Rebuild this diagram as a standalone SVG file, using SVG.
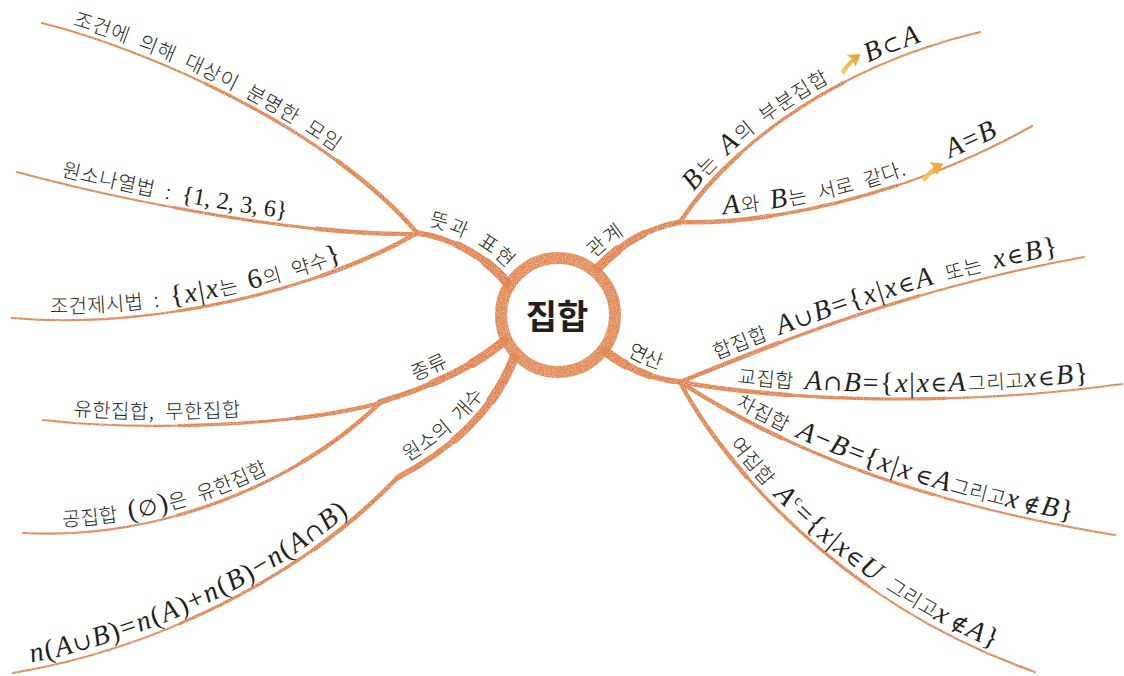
<svg xmlns="http://www.w3.org/2000/svg" width="1124" height="676" viewBox="0 0 1124 676">
<style>
.k{font-family:"Noto Sans CJK KR","Noto Sans",sans-serif;font-size:20px;font-weight:300;fill:#231f20;word-spacing:6px;letter-spacing:0.6px}
.i{font-family:'Liberation Serif','Times New Roman',serif;font-style:italic;font-weight:400;font-size:28px;fill:#231f20;word-spacing:0;letter-spacing:1.8px}
.r{font-family:'Liberation Serif','Times New Roman',serif;font-style:normal;font-weight:400;font-size:28px;fill:#231f20;word-spacing:0;letter-spacing:1.8px}
.y{font-family:'DejaVu Serif','DejaVu Sans',serif;font-style:normal;font-weight:400;font-size:22px;fill:#231f20;word-spacing:0;letter-spacing:2px}
.ln{fill:none;stroke:#de7d47;stroke-linecap:round;stroke-linejoin:round}
.s1{stroke-width:2.2}
.s2{stroke-width:3.2;stroke-dasharray:60 300}
.s3{stroke-width:4.4;stroke-dasharray:25 300}
.m1{stroke-width:5.5}
.m2{stroke-width:7.5;stroke-dasharray:60 300}
.m3{stroke-width:9.5;stroke-dasharray:28 300}
.arr{fill:url(#ag)}
</style>
<defs>
<linearGradient id="ag" x1="0" y1="0" x2="1" y2="0">
<stop offset="0" stop-color="#f9cd6a"/>
<stop offset="1" stop-color="#eb9c30"/>
</linearGradient>
<filter id="crayon" filterUnits="userSpaceOnUse" x="0" y="0" width="1124" height="676">
<feTurbulence type="fractalNoise" baseFrequency="0.9" numOctaves="2" seed="4" result="n"/>
<feColorMatrix in="n" type="matrix" values="0 0 0 0 0  0 0 0 0 0  0 0 0 0 0  0 0 0 -1.1 1.4" result="a"/>
<feComposite in="SourceGraphic" in2="a" operator="in"/>
</filter>
<path id="arrow" class="arr" d="M-13,3 C-6,0 -1,-1 3,-2 L1,-8 L13,-1 L2,7 L3,2 C-2,3 -7,5 -12,8 Z"/>
<path id="tA" d="M42,23 C150,50 330,130 418,234"/>
<path id="tB" d="M17,172 C120,200 300,236 417,234"/>
<path id="tC" d="M12,318 C150,330 320,290 417,233"/>
<path id="tD" d="M418,233 C450,238 485,255 505,280"/>
<path id="tE" d="M598,268 C625,240 650,228 680,222"/>
<path id="tF" d="M680,222 C720,160 820,70 980,32"/>
<path id="tG" d="M680,222 C760,225 900,200 1032,126"/>
<path id="tH" d="M606,352 C630,370 655,380 682,382"/>
<path id="tI" d="M680,382 C760,350 900,290 1084,257"/>
<path id="tJ" d="M680,382 C780,400 950,408 1122,384"/>
<path id="tK" d="M680,382 C770,440 900,500 1115,535"/>
<path id="tL" d="M680,382 C715,450 830,600 1035,672"/>
<path id="tM" d="M380,402 C420,390 470,370 502,343"/>
<path id="tN" d="M43,420 C150,432 300,425 380,403"/>
<path id="tO" d="M23,533 C150,540 290,490 380,403"/>
<path id="tP" d="M397,478 C440,455 490,420 512,362"/>
<path id="tQ" d="M13,673 C150,650 300,580 397,478"/>
</defs>
<g id="connectors" filter="url(#crayon)">
<g class="ln">
<path class="m1" pathLength="100" d="M507,283 C485,255 450,238 418,233"/>
<path class="m2" pathLength="100" d="M507,283 C485,255 450,238 418,233"/>
<path class="m3" pathLength="100" d="M507,283 C485,255 450,238 418,233"/>
<path class="m1" pathLength="100" d="M598,268 C625,240 650,228 680,222"/>
<path class="m2" pathLength="100" d="M598,268 C625,240 650,228 680,222"/>
<path class="m3" pathLength="100" d="M598,268 C625,240 650,228 680,222"/>
<path class="m1" pathLength="100" d="M606,352 C630,370 655,380 682,382"/>
<path class="m2" pathLength="100" d="M606,352 C630,370 655,380 682,382"/>
<path class="m3" pathLength="100" d="M606,352 C630,370 655,380 682,382"/>
<path class="m1" pathLength="100" d="M504,341 C470,370 420,390 380,402"/>
<path class="m2" pathLength="100" d="M504,341 C470,370 420,390 380,402"/>
<path class="m3" pathLength="100" d="M504,341 C470,370 420,390 380,402"/>
<path class="m1" pathLength="100" d="M514,358 C490,420 440,455 397,478"/>
<path class="m2" pathLength="100" d="M514,358 C490,420 440,455 397,478"/>
<path class="m3" pathLength="100" d="M514,358 C490,420 440,455 397,478"/>
<path class="s1" pathLength="100" d="M418,234 C330,130 150,50 42,23"/>
<path class="s2" pathLength="100" d="M418,234 C330,130 150,50 42,23"/>
<path class="s3" pathLength="100" d="M418,234 C330,130 150,50 42,23"/>
<path class="s1" pathLength="100" d="M417,234 C300,236 120,200 17,172"/>
<path class="s2" pathLength="100" d="M417,234 C300,236 120,200 17,172"/>
<path class="s3" pathLength="100" d="M417,234 C300,236 120,200 17,172"/>
<path class="s1" pathLength="100" d="M417,233 C320,290 150,330 12,318"/>
<path class="s2" pathLength="100" d="M417,233 C320,290 150,330 12,318"/>
<path class="s3" pathLength="100" d="M417,233 C320,290 150,330 12,318"/>
<path class="s1" pathLength="100" d="M680,222 C720,160 820,70 980,32"/>
<path class="s2" pathLength="100" d="M680,222 C720,160 820,70 980,32"/>
<path class="s3" pathLength="100" d="M680,222 C720,160 820,70 980,32"/>
<path class="s1" pathLength="100" d="M680,222 C760,225 900,200 1032,126"/>
<path class="s2" pathLength="100" d="M680,222 C760,225 900,200 1032,126"/>
<path class="s3" pathLength="100" d="M680,222 C760,225 900,200 1032,126"/>
<path class="s1" pathLength="100" d="M680,382 C760,350 900,290 1084,257"/>
<path class="s2" pathLength="100" d="M680,382 C760,350 900,290 1084,257"/>
<path class="s3" pathLength="100" d="M680,382 C760,350 900,290 1084,257"/>
<path class="s1" pathLength="100" d="M680,382 C780,400 950,408 1122,384"/>
<path class="s2" pathLength="100" d="M680,382 C780,400 950,408 1122,384"/>
<path class="s3" pathLength="100" d="M680,382 C780,400 950,408 1122,384"/>
<path class="s1" pathLength="100" d="M680,382 C770,440 900,500 1115,535"/>
<path class="s2" pathLength="100" d="M680,382 C770,440 900,500 1115,535"/>
<path class="s3" pathLength="100" d="M680,382 C770,440 900,500 1115,535"/>
<path class="s1" pathLength="100" d="M680,382 C715,450 830,600 1035,672"/>
<path class="s2" pathLength="100" d="M680,382 C715,450 830,600 1035,672"/>
<path class="s3" pathLength="100" d="M680,382 C715,450 830,600 1035,672"/>
<path class="s1" pathLength="100" d="M380,403 C300,425 150,432 43,420"/>
<path class="s2" pathLength="100" d="M380,403 C300,425 150,432 43,420"/>
<path class="s3" pathLength="100" d="M380,403 C300,425 150,432 43,420"/>
<path class="s1" pathLength="100" d="M380,403 C290,490 150,540 23,533"/>
<path class="s2" pathLength="100" d="M380,403 C290,490 150,540 23,533"/>
<path class="s3" pathLength="100" d="M380,403 C290,490 150,540 23,533"/>
<path class="s1" pathLength="100" d="M397,478 C300,580 150,650 13,673"/>
<path class="s2" pathLength="100" d="M397,478 C300,580 150,650 13,673"/>
<path class="s3" pathLength="100" d="M397,478 C300,580 150,650 13,673"/>
</g>
</g>

<g id="center">
<circle cx="558" cy="315" r="57" fill="#fff" stroke="#e0844f" stroke-width="12" filter="url(#crayon)"/>
<text x="557" y="329" text-anchor="middle" font-family="'Noto Sans CJK KR',sans-serif" font-weight="700" font-size="34" fill="#231f20">집합</text>
</g>

<g id="n-meaning">
<text class="k"><textPath href="#tD" startOffset="8"><tspan dy="-9">뜻과 표현</tspan></textPath></text>
</g>
<g id="n-def">
<text class="k"><textPath href="#tA" startOffset="30"><tspan dy="-6">조건에 의해 대상이 분명한 모임</tspan></textPath></text>
</g>
<g id="n-list">
<text class="k"><textPath href="#tB" startOffset="44"><tspan dy="-7">원소나열법 : </tspan><tspan class="r" style="font-size:24px;letter-spacing:0">{1, 2, 3, 6}</tspan></textPath></text>
</g>
<g id="n-cond">
<text class="k"><textPath href="#tC" startOffset="38"><tspan dy="-7">조건제시법 : </tspan><tspan class="r">{</tspan><tspan class="i">x</tspan><tspan class="r">|</tspan><tspan class="i">x</tspan><tspan>는 </tspan><tspan class="r">6</tspan><tspan>의 약수</tspan><tspan class="r">}</tspan></textPath></text>
</g>

<g id="n-relation">
<text class="k"><textPath href="#tE" startOffset="4"><tspan dy="-9">관계</tspan></textPath></text>
</g>
<g id="n-subset">
<text class="k"><textPath href="#tF" startOffset="32"><tspan class="i" dy="-7">B</tspan><tspan>는 </tspan><tspan class="i">A</tspan><tspan>의 부분집합</tspan><tspan class="i" dx="42">B</tspan><tspan class="y">⊂</tspan><tspan class="i">A</tspan></textPath></text>
<use href="#arrow" transform="translate(850,62) rotate(-32)"/>
</g>
<g id="n-equal">
<text class="k"><textPath href="#tG" startOffset="44"><tspan class="i" dy="-7">A</tspan><tspan>와 </tspan><tspan class="i">B</tspan><tspan>는 서로 같다.</tspan><tspan class="i" dx="46">A</tspan><tspan class="r">=</tspan><tspan class="i">B</tspan></textPath></text>
<use href="#arrow" transform="translate(932,170) rotate(-26)"/>
</g>

<g id="n-operation">
<text class="k"><textPath href="#tH" startOffset="20"><tspan dy="-9">연산</tspan></textPath></text>
</g>
<g id="n-union">
<text class="k"><textPath href="#tI" startOffset="42"><tspan dy="-7">합집합 </tspan><tspan class="i">A</tspan><tspan class="y">∪</tspan><tspan class="i">B</tspan><tspan class="r">={</tspan><tspan class="i">x</tspan><tspan class="r">|</tspan><tspan class="i">x</tspan><tspan class="y">∈</tspan><tspan class="i">A</tspan><tspan> 또는 </tspan><tspan class="i">x</tspan><tspan class="y">∈</tspan><tspan class="i">B</tspan><tspan class="r">}</tspan></textPath></text>
</g>
<g id="n-intersection">
<text class="k"><textPath href="#tJ" startOffset="57"><tspan dy="-7">교집합 </tspan><tspan class="i">A</tspan><tspan class="y">∩</tspan><tspan class="i">B</tspan><tspan class="r">={</tspan><tspan class="i">x</tspan><tspan class="r">|</tspan><tspan class="i">x</tspan><tspan class="y">∈</tspan><tspan class="i">A</tspan><tspan>그리고</tspan><tspan class="i">x</tspan><tspan class="y">∈</tspan><tspan class="i">B</tspan><tspan class="r">}</tspan></textPath></text>
</g>
<g id="n-difference">
<text class="k"><textPath href="#tK" startOffset="60"><tspan dy="-7">차집합 </tspan><tspan class="i">A</tspan><tspan class="r">−</tspan><tspan class="i">B</tspan><tspan class="r">={</tspan><tspan class="i">x</tspan><tspan class="r">|</tspan><tspan class="i">x</tspan><tspan class="y" dx="4">∈</tspan><tspan class="i">A</tspan><tspan>그리고</tspan><tspan class="i">x</tspan><tspan class="y" dx="4">∉</tspan><tspan class="i">B</tspan><tspan class="r">}</tspan></textPath></text>
</g>
<g id="n-complement">
<text class="k"><textPath href="#tL" startOffset="80"><tspan dy="-7">여집합 </tspan><tspan class="i">A</tspan><tspan class="r" style="font-size:15px" dy="-10">c</tspan><tspan class="r" dy="10">={</tspan><tspan class="i">x</tspan><tspan class="r">|</tspan><tspan class="i">x</tspan><tspan class="y">∈</tspan><tspan class="i">U</tspan><tspan> 그리고</tspan><tspan class="i">x</tspan><tspan class="y" dx="4">∉</tspan><tspan class="i">A</tspan><tspan class="r">}</tspan></textPath></text>
</g>

<g id="n-kind">
<text class="k"><textPath href="#tM" startOffset="40"><tspan dy="-9">종류</tspan></textPath></text>
</g>
<g id="n-finite">
<text class="k"><textPath href="#tN" startOffset="30"><tspan dy="-7">유한집합, 무한집합</tspan></textPath></text>
</g>
<g id="n-empty">
<text class="k"><textPath href="#tO" startOffset="40"><tspan dy="-7">공집합 </tspan><tspan class="r">(</tspan><tspan class="y">∅</tspan><tspan class="r">)</tspan><tspan>은 유한집합</tspan></textPath></text>
</g>

<g id="n-count">
<text class="k"><textPath href="#tP" startOffset="18"><tspan dy="-9">원소의 개수</tspan></textPath></text>
</g>
<g id="n-formula">
<text class="k"><textPath href="#tQ" startOffset="20"><tspan class="i" dy="-7">n</tspan><tspan class="r">(</tspan><tspan class="i">A</tspan><tspan class="y">∪</tspan><tspan class="i">B</tspan><tspan class="r">)=</tspan><tspan class="i">n</tspan><tspan class="r">(</tspan><tspan class="i">A</tspan><tspan class="r">)+</tspan><tspan class="i">n</tspan><tspan class="r">(</tspan><tspan class="i">B</tspan><tspan class="r">)−</tspan><tspan class="i">n</tspan><tspan class="r">(</tspan><tspan class="i">A</tspan><tspan class="y">∩</tspan><tspan class="i">B</tspan><tspan class="r">)</tspan></textPath></text>
</g>
</svg>
